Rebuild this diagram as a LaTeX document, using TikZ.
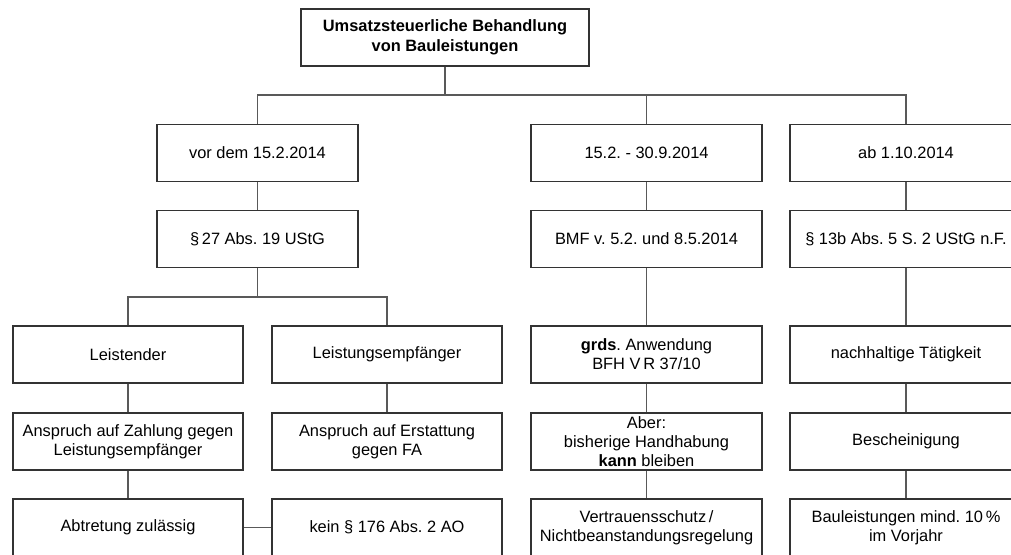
\documentclass[tikz,border=0pt]{standalone}
\usepackage{fontspec}
\setmainfont{Liberation Sans}
\frenchspacing
\begin{document}
\begin{tikzpicture}[x=1pt,y=-1pt,
  box/.style={draw=black!80, line width=1.1pt, fill=white, align=center, inner sep=0pt,
    minimum width=230pt, minimum height=57pt, font=\fontsize{16.4}{19}\selectfont},
  conn/.style={draw=black!65, line width=1.1pt}]
\useasboundingbox (0,0) rectangle (1011,554);
\clip (0,0) rectangle (1011,554);
% top
\node[box, minimum width=288pt, font=\fontsize{16.4}{20}\selectfont\bfseries] (top) at (445,37.5) {Umsatzsteuerliche Behandlung\\von Bauleistungen};
% row 1
\node[box, minimum width=201pt] (A1) at (257.5,153) {vor dem 15.2.2014};
\node[box, minimum width=231pt] (B1) at (646.5,153) {15.2. - 30.9.2014};
\node[box, minimum width=232pt] (C1) at (906,153) {ab 1.10.2014};
% row 2
\node[box, minimum width=201pt] (A2) at (257.5,239) {\S\,27 Abs. 19 UStG};
\node[box, minimum width=231pt] (B2) at (646.5,239) {BMF v. 5.2. und 8.5.2014};
\node[box, minimum width=232pt] (C2) at (906,239) {\S\ 13b Abs. 5 S. 2 UStG n.F.};
% row 3
\node[box] (L1) at (128,354.5) {Leistender};
\node[box] (E1) at (387,354.5) {Leistungsempfänger};
\node[box, minimum width=231pt] (B3) at (646.5,354.5) {\textbf{grds}. Anwendung\\BFH V\,R 37/10};
\node[box, minimum width=232pt] (C3) at (906,354.5) {nachhaltige Tätigkeit};
% row 4
\node[box] (L2) at (128,441.5) {Anspruch auf Zahlung gegen\\Leistungsempfänger};
\node[box] (E2) at (387,441.5) {Anspruch auf Erstattung\\gegen FA};
\node[box, minimum width=231pt] (B4) at (646.5,441.5) {Aber:\\bisherige Handhabung\\\textbf{kann} bleiben};
\node[box, minimum width=232pt] (C4) at (906,441.5) {Bescheinigung};
% row 5
\node[box] (L3) at (128,527.5) {Abtretung zulässig};
\node[box] (E3) at (387,527.5) {kein \S\ 176 Abs. 2 AO};
\node[box, minimum width=231pt] (B5) at (646.5,527.5) {Vertrauensschutz\,/\\Nichtbeanstandungsregelung};
\node[box, minimum width=232pt] (C5) at (906,527.5) {Bauleistungen mind. 10\,\%\\im Vorjahr};
% junctions
\coordinate (j1) at (445,95);
\coordinate (j2) at (257.5,297);
% connectors
\draw[conn] (top.south) -- (j1);
\draw[conn] (j1) -| (A1.north);
\draw[conn] (j1) -| (C1.north);
\draw[conn] (B1.north) -- (B1.north |- j1);
\draw[conn] (A1) -- (A2);
\draw[conn] (B1) -- (B2);
\draw[conn] (C1) -- (C2);
\draw[conn] (A2.south) -- (j2);
\draw[conn] (j2) -| (L1.north);
\draw[conn] (j2) -| (E1.north);
\draw[conn] (B2) -- (B3);
\draw[conn] (C2) -- (C3);
\draw[conn] (L1) -- (L2);
\draw[conn] (E1) -- (E2);
\draw[conn] (B3) -- (B4);
\draw[conn] (C3) -- (C4);
\draw[conn] (L2) -- (L3);
\draw[conn] (B4) -- (B5);
\draw[conn] (C4) -- (C5);
\draw[conn] (L3.east) -- (E3.west);
\end{tikzpicture}
\end{document}
